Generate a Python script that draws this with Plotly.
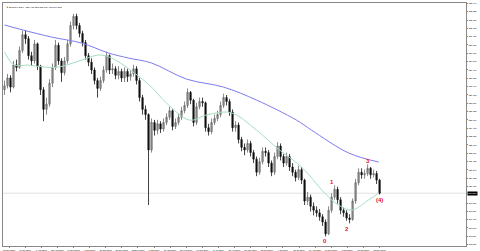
import plotly.graph_objects as go

# ---- data ----
closes = [127.7, 128.3, 127.6, 129.3, 129.1, 130.4, 131.6, 131.3, 130.0, 129.6,
          130.9, 129.2, 127.4, 125.9, 126.3, 127.9, 129.1, 130.8, 129.6, 128.7,
          129.6, 130.9, 132.3, 133.0, 132.3, 131.7, 131.0, 130.0, 129.5, 128.9,
          128.1, 127.5, 128.1, 128.9, 130.0, 128.9, 129.0, 128.5, 128.8, 128.3,
          128.8, 128.4, 128.6, 129.0, 128.1, 126.8, 125.9, 125.5, 122.8, 124.9,
          124.3, 124.8, 124.4, 124.9, 125.3, 125.8, 124.6, 124.9, 125.3, 125.8,
          126.2, 127.2, 126.6, 124.9, 126.1, 126.5, 126.4, 124.5, 124.2, 124.9,
          125.2, 125.5, 126.2, 126.8, 126.5, 125.7, 124.5, 124.7, 123.6, 123.0,
          122.8, 123.3, 122.6, 122.1, 121.1, 121.9, 122.7, 122.6, 121.8, 121.1,
          122.3, 123.1, 122.3, 121.8, 122.3, 121.5, 121.1, 120.7, 121.3, 120.5,
          118.9, 119.2, 118.5, 118.2, 118.0, 117.7, 117.3, 116.4, 118.2, 119.2,
          119.8, 119.0, 118.2, 118.0, 117.6, 117.5, 118.9, 120.3, 121.1, 120.9,
          121.0, 121.4, 120.9, 121.0, 120.5, 119.5]
highs = [128.1, 128.6, 128.5, 129.6, 129.7, 130.7, 131.9, 131.9, 131.5, 130.3,
         131.2, 131.0, 129.3, 127.6, 126.8, 128.2, 129.4, 131.2, 131.0, 129.8,
         129.9, 131.2, 132.6, 133.2, 133.2, 132.5, 131.9, 131.2, 130.2, 129.8,
         129.1, 128.3, 128.4, 129.2, 130.3, 130.1, 129.4, 129.2, 129.2, 129.0,
         129.1, 129.0, 128.9, 129.3, 129.2, 128.3, 127.0, 126.2, 125.6, 125.2,
         125.1, 125.1, 125.0, 125.2, 125.6, 126.1, 125.9, 125.2, 125.6, 126.1,
         126.5, 127.5, 127.3, 126.7, 126.4, 126.8, 126.8, 126.5, 124.8, 125.2,
         125.5, 125.8, 126.5, 127.1, 127.0, 126.7, 125.9, 125.0, 124.9, 123.8,
         123.3, 123.6, 123.5, 122.8, 122.3, 122.2, 123.0, 123.0, 122.8, 122.0,
         122.6, 123.4, 123.3, 122.5, 122.6, 122.5, 121.8, 121.3, 121.6, 121.5,
         120.6, 119.6, 119.4, 118.8, 118.5, 118.3, 117.9, 117.5, 118.5, 119.5,
         120.1, 120.0, 119.2, 118.4, 118.2, 117.9, 119.1, 120.6, 121.4, 121.4,
         121.3, 121.7, 121.5, 121.3, 121.2, 120.6]
lows = [127.0, 127.5, 127.2, 127.5, 128.8, 129.0, 130.2, 130.9, 129.7, 129.2,
        129.4, 128.9, 127.0, 125.0, 125.5, 126.1, 127.6, 128.9, 129.3, 128.0,
        128.5, 129.4, 130.7, 132.0, 132.0, 131.4, 130.7, 129.7, 129.2, 128.6,
        127.8, 126.8, 127.3, 127.9, 128.7, 128.6, 128.6, 128.2, 128.2, 128.0,
        128.0, 128.0, 128.1, 128.4, 127.8, 126.5, 125.5, 125.1, 118.6, 122.6,
        123.9, 124.0, 124.1, 124.2, 124.7, 125.1, 124.3, 124.4, 124.7, 125.1,
        125.6, 126.0, 126.3, 124.6, 124.7, 125.9, 126.1, 124.2, 123.9, 124.0,
        124.7, 125.0, 125.3, 126.0, 126.2, 125.4, 124.2, 124.2, 123.3, 122.7,
        122.4, 122.6, 122.3, 121.8, 120.8, 120.9, 121.7, 122.3, 121.5, 120.8,
        120.9, 122.1, 122.0, 121.5, 121.6, 121.2, 120.8, 120.4, 120.5, 120.2,
        118.6, 118.6, 118.1, 117.8, 117.7, 117.4, 117.0, 116.2, 116.3, 118.0,
        119.0, 118.7, 117.9, 117.7, 117.4, 117.2, 117.4, 118.7, 120.1, 120.6,
        120.6, 120.8, 120.6, 120.7, 120.2, 119.4]
first_open = 127.4
opens = [first_open] + closes[:-1]
bar_idx = list(range(len(closes)))

ma_slow_x = [0, 6.3, 15.7, 25.7, 34.7, 41.3, 49, 60.7, 73, 84, 97.3, 102.3, 114.7, 124.7]
ma_slow_y = [132.34, 131.95, 131.42, 130.96, 130.2, 129.82, 129.44, 128.21, 127.6,
             126.61, 125.08, 124.32, 122.57, 121.88]
ma_fast_x = [0, 3.3, 8, 13.3, 18, 25.7, 31.3, 35.7, 43.3, 49, 54, 61.7, 67.3, 74,
             77.3, 84, 91.7, 99, 106.7, 111.3, 115.7, 121.3, 124.7]
ma_fast_y = [130.28, 129.28, 129.28, 129.13, 129.13, 129.66, 130.05, 129.82, 128.67,
             127.6, 126.38, 125.08, 125.47, 125.7, 125.47, 124.32, 122.79, 121.5,
             119.51, 118.6, 118.21, 118.98, 119.51]

wave_text = ["0", "1", "2", "3", "(4)"]
wave_x = [106.7, 109.3, 114.3, 121.0, 125.0]
wave_y = [115.85, 120.35, 116.75, 121.95, 118.95]

price_ticks = [133.990, 133.355, 132.720, 132.085, 131.450, 130.815, 130.180,
               129.545, 128.910, 128.275, 127.640, 127.005, 126.370, 125.735,
               125.100, 124.465, 123.830, 123.195, 122.560, 121.925, 121.290,
               120.655, 120.020, 118.750, 118.115, 117.480, 116.845, 116.210,
               115.575]
date_labels = ["18 Jun 2018", "10 Jul 2018", "1 Aug 2018", "23 Aug 2018",
               "14 Sep 2018", "8 Oct 2018", "30 Oct 2018", "21 Nov 2018",
               "13 Dec 2018", "7 Jan 2019", "29 Jan 2019", "20 Feb 2019",
               "14 Mar 2019", "5 Apr 2019", "29 Apr 2019", "21 May 2019",
               "12 Jun 2019", "4 Jul 2019", "26 Jul 2019", "19 Aug 2019",
               "10 Sep 2019", "2 Oct 2019", "24 Oct 2019", "15 Nov 2019"]
last_price = 119.5
title_text = "▼ EURJPY,Daily  120.475 120.585 119.412 119.512"

# ---- figure ----
fig = go.Figure()
fig.add_trace(go.Scatter(x=ma_slow_x, y=ma_slow_y, mode="lines", line_shape="spline",
                         line=dict(color="#7c7cf0", width=1), hoverinfo="skip"))
fig.add_trace(go.Scatter(x=ma_fast_x, y=ma_fast_y, mode="lines", line_shape="spline",
                         line=dict(color="#a3dfc0", width=1), hoverinfo="skip"))
fig.add_trace(go.Candlestick(
    x=bar_idx, open=opens, high=highs, low=lows, close=closes,
    increasing=dict(line=dict(color="#6a6a6a", width=0.8), fillcolor="#9a9a9a"),
    decreasing=dict(line=dict(color="#111111", width=0.8), fillcolor="#111111"),
    whiskerwidth=0))

fig.add_shape(type="line", xref="paper", x0=0, x1=1, yref="y", y0=last_price, y1=last_price,
              line=dict(color="#e2e2e2", width=1), layer="below")

for t, x, y in zip(wave_text, wave_x, wave_y):
    fig.add_annotation(x=x, y=y, text="<b>%s</b>" % t, showarrow=False,
                       font=dict(color="#e8141c", size=6, family="Arial"))

fig.add_annotation(xref="paper", yref="y", x=1, y=last_price, xanchor="left",
                   text="%.3f" % last_price, showarrow=False, bgcolor="#000000",
                   font=dict(color="white", size=2.4, family="Arial"), borderpad=0, xshift=1)
fig.add_annotation(xref="paper", yref="paper", x=0.002, y=0.997, xanchor="left",
                   yanchor="top", text=title_text, showarrow=False,
                   font=dict(color="#000000", size=2.4, family="Arial"))

tick_pos = [i * 5.37 + 1.5 for i in range(len(date_labels))]

fig.update_layout(
    width=480, height=251,
    margin=dict(l=3, r=14, t=3, b=5),
    paper_bgcolor="white", plot_bgcolor="white",
    showlegend=False, boxgap=0.4,
    xaxis=dict(range=[-0.5, 153.8], rangeslider=dict(visible=False), showgrid=False,
               zeroline=False, showline=True, linecolor="#888888", linewidth=1,
               mirror=True, tickvals=tick_pos, ticktext=date_labels, tickangle=0,
               automargin=False,
               ticks="outside", ticklen=1, tickcolor="#888888",
               tickfont=dict(size=2.2, family="Arial", color="#000000")),
    yaxis=dict(range=[115.47, 134.02], side="right", showgrid=False, zeroline=False,
               showline=True, linecolor="#888888", linewidth=1, mirror=True,
               automargin=False,
               tickvals=price_ticks, ticktext=["%.3f" % v for v in price_ticks],
               ticks="outside", ticklen=1, tickcolor="#888888",
               tickfont=dict(size=2.2, family="Arial", color="#000000")),
)

fig.write_html("out.html")
